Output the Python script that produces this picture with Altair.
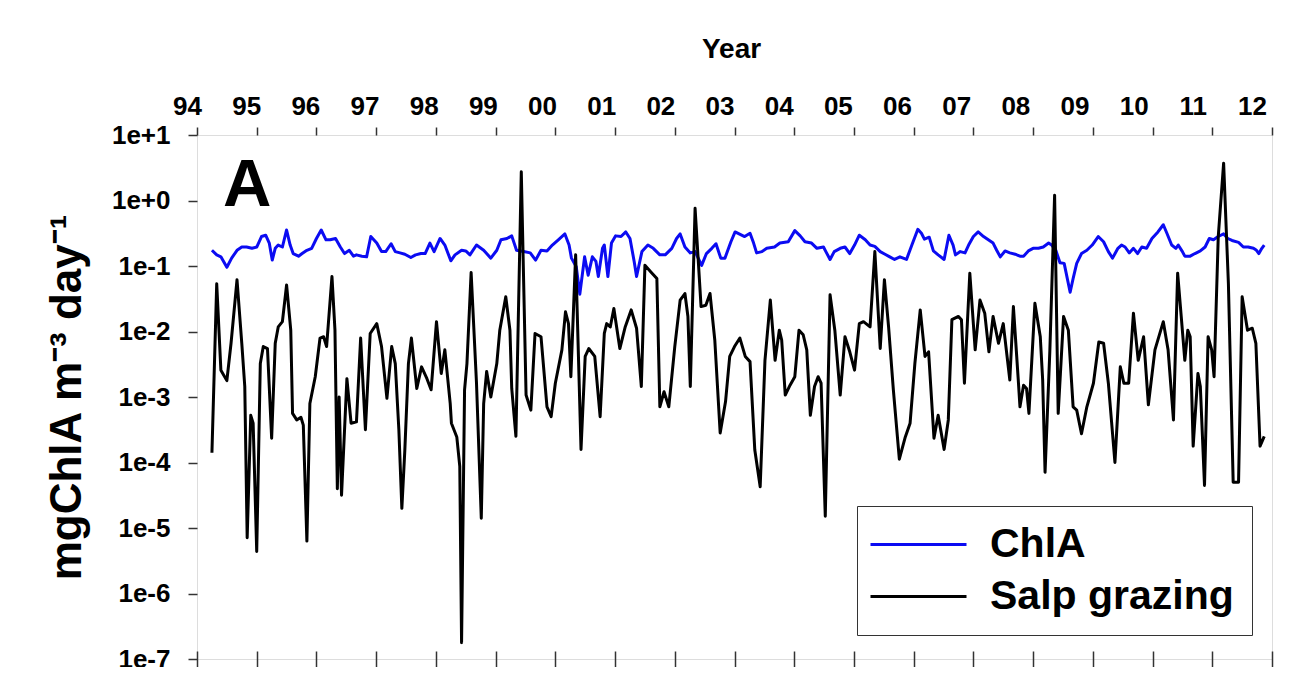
import altair as alt
import numpy as np
import pandas as pd

# ---- data (decimal year, log10 of mgChlA m-3 day-1) ----
chla_year = [1994.25, 1994.33, 1994.40, 1994.50, 1994.58, 1994.67, 1994.75, 1994.83, 1994.92, 1995.00,
             1995.08, 1995.15, 1995.21, 1995.26, 1995.31, 1995.36, 1995.43, 1995.50, 1995.56, 1995.61,
             1995.70, 1995.76, 1995.84, 1995.92, 1996.00, 1996.08, 1996.16, 1996.23, 1996.32, 1996.40,
             1996.47, 1996.55, 1996.62, 1996.67, 1996.76, 1996.84, 1996.91, 1997.01, 1997.09, 1997.16,
             1997.25, 1997.32, 1997.40, 1997.48, 1997.58, 1997.66, 1997.75, 1997.82, 1997.90, 1997.97,
             1998.07, 1998.15, 1998.25, 1998.32, 1998.43, 1998.50, 1998.57, 1998.68, 1998.80, 1998.92,
             1999.02, 1999.09, 1999.19, 1999.27, 1999.35, 1999.47, 1999.58, 1999.67, 1999.76, 1999.86,
             1999.95, 2000.05, 2000.16, 2000.23, 2000.27, 2000.35, 2000.41, 2000.49, 2000.55, 2000.62,
             2000.68, 2000.72, 2000.79, 2000.82, 2000.88, 2000.94, 2001.01, 2001.10, 2001.18, 2001.25,
             2001.32, 2001.36, 2001.45, 2001.55, 2001.64, 2001.75, 2001.84, 2001.95, 2002.03, 2002.09,
             2002.17, 2002.26, 2002.34, 2002.45, 2002.53, 2002.62, 2002.69, 2002.77, 2002.84, 2002.94,
             2003.01, 2003.17, 2003.26, 2003.32, 2003.37, 2003.46, 2003.54, 2003.67, 2003.76, 2003.90,
             2004.01, 2004.10, 2004.18, 2004.29, 2004.38, 2004.49, 2004.53, 2004.60, 2004.67, 2004.77,
             2004.85, 2004.93, 2005.01, 2005.09, 2005.19, 2005.27, 2005.35, 2005.44, 2005.52, 2005.60,
             2005.68, 2005.77, 2005.88, 2005.97, 2006.07, 2006.13, 2006.18, 2006.26, 2006.33, 2006.41,
             2006.51, 2006.59, 2006.66, 2006.70, 2006.78, 2006.86, 2006.92, 2007.00, 2007.08, 2007.17,
             2007.25, 2007.33, 2007.39, 2007.45, 2007.53, 2007.61, 2007.70, 2007.78, 2007.84, 2007.92,
             2008.00, 2008.09, 2008.17, 2008.26, 2008.31, 2008.38, 2008.45, 2008.52, 2008.62, 2008.67,
             2008.73, 2008.81, 2008.90, 2008.99, 2009.09, 2009.18, 2009.26, 2009.33, 2009.42, 2009.48,
             2009.54, 2009.61, 2009.68, 2009.75, 2009.82, 2009.90, 2009.99, 2010.09, 2010.18, 2010.24,
             2010.32, 2010.39, 2010.43, 2010.50, 2010.54, 2010.63, 2010.71, 2010.80, 2010.88, 2010.95,
             2011.02, 2011.10, 2011.19, 2011.26, 2011.33, 2011.44, 2011.52, 2011.60, 2011.69, 2011.74,
             2011.78, 2011.83, 2011.87]
chla_log10 = [-0.76, -0.83, -0.86, -1.02, -0.88, -0.76, -0.71, -0.71, -0.73, -0.71,
              -0.55, -0.53, -0.65, -0.91, -0.73, -0.68, -0.71, -0.45, -0.68, -0.81,
              -0.85, -0.81, -0.76, -0.73, -0.58, -0.45, -0.60, -0.60, -0.58, -0.71,
              -0.81, -0.76, -0.85, -0.83, -0.85, -0.86, -0.55, -0.65, -0.78, -0.78,
              -0.66, -0.78, -0.80, -0.82, -0.87, -0.83, -0.81, -0.81, -0.65, -0.78,
              -0.58, -0.68, -0.92, -0.83, -0.76, -0.77, -0.83, -0.68, -0.76, -0.88,
              -0.76, -0.60, -0.58, -0.54, -0.76, -0.78, -0.80, -0.91, -0.76, -0.77,
              -0.68, -0.60, -0.51, -0.68, -0.88, -1.01, -1.43, -0.86, -1.14, -0.86,
              -0.93, -1.16, -0.73, -0.68, -1.16, -0.65, -0.54, -0.55, -0.48, -0.58,
              -0.93, -1.16, -0.78, -0.68, -0.73, -0.83, -0.83, -0.73, -0.58, -0.51,
              -0.71, -0.80, -0.78, -0.99, -0.81, -0.73, -0.66, -0.88, -0.88, -0.63,
              -0.48, -0.55, -0.50, -0.65, -0.80, -0.78, -0.73, -0.71, -0.65, -0.63,
              -0.46, -0.54, -0.63, -0.65, -0.73, -0.71, -0.78, -0.90, -0.78, -0.73,
              -0.71, -0.81, -0.68, -0.53, -0.60, -0.68, -0.70, -0.78, -0.82, -0.86,
              -0.90, -0.86, -0.90, -0.68, -0.44, -0.50, -0.59, -0.56, -0.77, -0.83,
              -0.90, -0.53, -0.68, -0.83, -0.78, -0.80, -0.68, -0.55, -0.48, -0.55,
              -0.60, -0.65, -0.76, -0.86, -0.77, -0.80, -0.82, -0.85, -0.85, -0.77,
              -0.73, -0.73, -0.71, -0.65, -0.68, -0.76, -0.95, -0.96, -1.40, -1.19,
              -0.96, -0.81, -0.76, -0.68, -0.55, -0.63, -0.78, -0.88, -0.73, -0.68,
              -0.71, -0.80, -0.73, -0.81, -0.71, -0.73, -0.58, -0.48, -0.37, -0.50,
              -0.68, -0.73, -0.68, -0.78, -0.85, -0.85, -0.81, -0.77, -0.71, -0.58,
              -0.60, -0.55, -0.51, -0.58, -0.61, -0.64, -0.71, -0.71, -0.73, -0.76,
              -0.81, -0.73, -0.68]

salp_year = [1994.25, 1994.33, 1994.40, 1994.50, 1994.57, 1994.67, 1994.75, 1994.80, 1994.84, 1994.90,
             1994.94, 1995.00, 1995.06, 1995.11, 1995.18, 1995.25, 1995.31, 1995.36, 1995.43, 1995.50,
             1995.57, 1995.60, 1995.67, 1995.74, 1995.78, 1995.84, 1995.89, 1995.98, 1996.06, 1996.12,
             1996.17, 1996.26, 1996.31, 1996.35, 1996.38, 1996.42, 1996.51, 1996.58, 1996.67, 1996.74,
             1996.82, 1996.90, 1997.01, 1997.09, 1997.18, 1997.26, 1997.32, 1997.38, 1997.43, 1997.48,
             1997.54, 1997.59, 1997.68, 1997.76, 1997.85, 1997.92, 1998.01, 1998.09, 1998.15, 1998.24,
             1998.26, 1998.35, 1998.40, 1998.43, 1998.48, 1998.52,
             1998.59, 1998.68, 1998.76, 1998.80, 1998.85, 1998.92, 1999.02, 1999.07, 1999.17, 1999.24,
             1999.27, 1999.34, 1999.43, 1999.51, 1999.59, 1999.66, 1999.76, 1999.86, 1999.93, 2000.00,
             2000.11, 2000.17, 2000.22, 2000.26, 2000.34, 2000.43, 2000.50, 2000.56, 2000.66, 2000.75,
             2000.82, 2000.86, 2000.92, 2000.98, 2001.08, 2001.17, 2001.27, 2001.36, 2001.44, 2001.50,
             2001.60, 2001.70, 2001.75, 2001.82, 2001.90, 2002.00, 2002.09, 2002.17, 2002.22, 2002.26,
             2002.34, 2002.44, 2002.52, 2002.59, 2002.67, 2002.76, 2002.85, 2002.92, 2003.00, 2003.09,
             2003.18, 2003.26, 2003.34, 2003.43, 2003.51, 2003.60, 2003.68, 2003.75, 2003.79, 2003.85,
             2003.93, 2004.01, 2004.08, 2004.15, 2004.21, 2004.27, 2004.34, 2004.40, 2004.45, 2004.52,
             2004.60, 2004.68, 2004.77, 2004.85, 2004.93, 2005.01, 2005.09, 2005.16, 2005.27, 2005.35,
             2005.44, 2005.51, 2005.58, 2005.66, 2005.76, 2005.86, 2005.94, 2006.02, 2006.11, 2006.19,
             2006.25, 2006.34, 2006.41, 2006.51, 2006.58, 2006.64, 2006.75, 2006.80, 2006.85, 2006.94,
             2007.03, 2007.11, 2007.19, 2007.26, 2007.33, 2007.42, 2007.50,
             2007.61, 2007.67, 2007.75, 2007.78, 2007.84, 2007.89, 2007.93, 2008.03, 2008.12, 2008.16,
             2008.20, 2008.28, 2008.36, 2008.42, 2008.51, 2008.59, 2008.67, 2008.73, 2008.81, 2008.90,
             2009.01, 2009.10, 2009.18, 2009.26, 2009.37, 2009.46, 2009.52, 2009.60, 2009.68, 2009.76,
             2009.85, 2009.93, 2010.04, 2010.18, 2010.26, 2010.35, 2010.42, 2010.48, 2010.54, 2010.59,
             2010.63, 2010.68, 2010.76, 2010.80, 2010.87, 2010.93, 2010.99, 2011.03, 2011.10, 2011.19,
             2011.27, 2011.35, 2011.44, 2011.50, 2011.59, 2011.67, 2011.73, 2011.80, 2011.87]
salp_log10 = [-3.85, -1.27, -2.59, -2.75, -2.18, -1.21, -2.18, -2.84, -5.15, -3.28,
              -3.40, -5.36, -2.49, -2.23, -2.26, -3.63, -2.18, -1.93, -1.85, -1.29,
              -1.98, -3.25, -3.35, -3.31, -3.43, -5.20, -3.10, -2.69, -2.10, -2.08,
              -2.23, -1.16, -1.98, -4.40, -3.00, -4.50, -2.72, -3.40, -3.38, -2.10,
              -3.50, -2.03, -1.88, -2.23, -3.02, -2.23, -2.49, -3.50, -4.70, -3.81,
              -2.49, -2.10, -2.87, -2.54, -2.72, -2.89, -1.85, -2.64, -2.28, -3.10,
              -3.40, -3.61, -4.06, -6.75, -2.89, -2.49,
              -1.10, -2.79, -4.85, -3.10, -2.61, -3.00, -2.49, -1.98, -1.47, -1.98,
              -2.87, -3.60, 0.44, -2.97, -3.20, -2.03, -2.08, -3.15, -3.30, -2.79,
              -2.28, -1.70, -1.88, -2.69, -0.83, -3.80, -2.38, -2.26, -2.38, -3.30,
              -2.03, -1.88, -1.93, -1.65, -2.26, -1.93, -1.67, -1.95, -2.84, -0.99,
              -1.09, -1.19, -3.15, -2.92, -3.15, -2.23, -1.52, -1.42, -1.77, -2.84,
              -0.12, -1.62, -1.60, -1.42, -2.13, -3.55, -3.07, -2.38, -2.23, -2.10,
              -2.38, -2.46, -3.81, -4.37, -2.44, -1.52, -2.44, -1.98, -2.13, -2.97,
              -2.82, -2.69, -1.98, -2.05, -2.28, -3.28, -2.84, -2.69, -2.79, -4.82,
              -1.44, -1.98, -2.97, -2.08, -2.31, -2.59, -1.88, -1.85, -1.93, -0.78,
              -2.26, -1.21, -1.93, -2.89, -3.95, -3.61, -3.40, -2.49, -1.67, -2.38,
              -2.31, -3.63, -3.28, -3.80, -3.35, -1.82, -1.77, -1.82, -2.79, -1.11,
              -2.28, -1.52, -1.72, -2.31, -1.77, -2.18, -1.88,
              -2.74, -1.62, -2.72, -3.15, -2.82, -2.87, -3.25, -1.57, -2.08, -2.74,
              -4.15, -2.30, 0.08, -3.25, -1.77, -1.98, -3.15, -3.20, -3.56, -3.15,
              -2.79, -2.16, -2.18, -2.79, -4.00, -2.54, -2.79, -2.79, -1.72, -2.44,
              -2.08, -3.12, -2.28, -1.85, -2.28, -3.35, -1.11, -1.77, -2.44, -1.98,
              -2.08, -3.75, -2.64, -2.84, -4.35, -2.08, -2.28, -2.69, -0.55, 0.57,
              -1.27, -4.30, -4.30, -1.47, -1.98, -1.95, -2.18, -3.75, -3.60]

year_ticks = list(range(1994, 2013))
log_ticks = [10.0, 1.0, 0.1, 1e-2, 1e-3, 1e-4, 1e-5, 1e-6, 1e-7]
series_names = ["ChlA", "Salp grazing"]
series_colors = ["#0b0bf2", "#000000"]

df = pd.concat([
    pd.DataFrame({"year": chla_year, "value": 10.0 ** np.array(chla_log10), "series": series_names[0]}),
    pd.DataFrame({"year": salp_year, "value": 10.0 ** np.array(salp_log10), "series": series_names[1]}),
], ignore_index=True)
ticks_df = pd.DataFrame({"year": year_ticks})

FONT = "Liberation Sans"
AX = "#333333"

x_scale = alt.Scale(domain=[1994, 2012], nice=False, zero=False)
# the printed year labels sit on a slightly tighter spacing than the tick marks
label_scale = alt.Scale(domain=[1994, 2012], range=[-10, 1055], nice=False, zero=False)
y_scale = alt.Scale(type="log", domain=[1e-7, 10], nice=False)

y_label_expr = ("'1e' + (datum.value >= 1 ? '+' : '-') + "
                "format(abs(round(log(datum.value) / LN10)), 'd')")

lines = alt.Chart(df).mark_line(strokeWidth=3, strokeJoin="round").encode(
    x=alt.X("year:Q", scale=x_scale,
            axis=alt.Axis(orient="bottom", values=year_ticks, labels=False, domain=False,
                          grid=False, ticks=True, tickSize=16, offset=-8,
                          tickColor=AX, tickWidth=1.5, title=None)),
    y=alt.Y("value:Q", scale=y_scale,
            axis=alt.Axis(orient="left", values=log_ticks, grid=False, domain=False,
                          tickSize=9, tickColor=AX, tickWidth=1.5,
                          labelExpr=y_label_expr, labelFont=FONT, labelFontSize=26,
                          labelFontWeight="bold", labelColor="black", labelPadding=18,
                          title="mgChlA m\u207b\u00b3 day\u207b\u00b9", titleFont=FONT,
                          titleFontSize=44, titleFontWeight="bold", titleColor="black",
                          titleAngle=270, titleX=-117, titleY=262, titleAlign="center",
                          titleBaseline="alphabetic")),
    color=alt.Color("series:N",
                    scale=alt.Scale(domain=series_names, range=series_colors),
                    legend=alt.Legend(title=None, orient="none", legendX=660, legendY=371,
                                      symbolType="M-4.8,0H4.8", symbolSize=400,
                                      symbolStrokeWidth=3, symbolOffset=23,
                                      labelFont=FONT, labelFontSize=41, labelFontWeight="bold",
                                      labelColor="black", labelOffset=51, labelLimit=600,
                                      strokeColor=AX, fillColor="white", padding=18,
                                      rowPadding=10)),
)

top_ticks = alt.Chart(ticks_df).mark_point(opacity=0).encode(
    x=alt.X("year:Q", scale=x_scale,
            axis=alt.Axis(orient="top", values=year_ticks, labels=False,
                          domain=False, grid=False, tickSize=8, tickColor=AX, tickWidth=1.5,
                          title=None)),
)

top_labels = alt.Chart(ticks_df).mark_point(opacity=0).encode(
    x=alt.X("year:Q", scale=label_scale,
            axis=alt.Axis(orient="top", values=year_ticks,
                          labelExpr="substring(toString(datum.value), 2, 4)",
                          domain=False, grid=False, ticks=False, tickSize=0,
                          labelFont=FONT, labelFontSize=26, labelFontWeight="bold",
                          labelColor="black", labelPadding=16,
                          labelFlush=False, labelOverlap=False, labelBound=False,
                          title="Year", titleFont=FONT, titleFontSize=28,
                          titleFontWeight="bold", titleColor="black",
                          titleX=534, titleY=-78, titleAlign="center",
                          titleBaseline="alphabetic")),
)

inner = alt.layer(lines, top_ticks).resolve_axis(x="independent")

chart = alt.layer(inner, top_labels).resolve_scale(x="independent").properties(
    width=1075, height=524,
    autosize=alt.AutoSizeParams(type="none"),
    padding={"left": 189, "top": 127, "right": 30, "bottom": 8},
    title=alt.TitleParams(text="A", anchor="start", frame="group", orient="top",
                          font=FONT, fontSize=67, fontWeight="bold", color="black",
                          dx=26, dy=238, offset=0, baseline="alphabetic"),
).configure_view(stroke=AX, strokeWidth=1.5).configure(background="white")

chart.save("out.html", embed_options={"renderer": "svg", "actions": False})
